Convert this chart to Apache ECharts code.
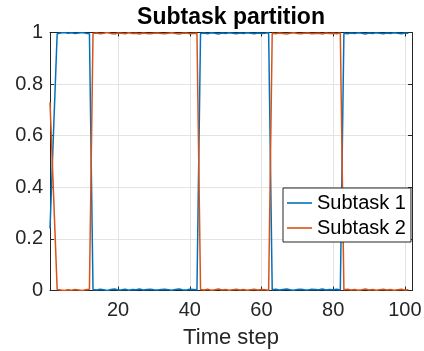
<!DOCTYPE html>
<html>
<head>
<meta charset="utf-8">
<script src="https://cdn.jsdelivr.net/npm/echarts@6/dist/echarts.min.js"></script>
<style>
html,body{margin:0;padding:0;background:#fff;}
#chart{width:424px;height:351px;}
</style>
</head>
<body>
<div id="chart"></div>
<script>
// ---- data ----
const titleText = 'Subtask partition';
const xName = 'Time step';
const seriesNames = ['Subtask 1', 'Subtask 2'];
const xTicks = [20, 40, 60, 80, 100];
const yTicks = [0, 0.2, 0.4, 0.6, 0.8, 1];

const subtask1 = [
  0.24, 0.62,
  0.995,0.998,1,0.997,0.999,0.996,0.998,1,0.997,0.995,
  0.004,0.002,0.005,0.003,0,0.004,0.006,0.002,0.003,0.005,
  0.001,0.004,0.003,0.006,0.002,0.004,0.005,0.003,0.002,0.004,
  0.005,0.003,0.001,0.004,0.006,0.003,0.002,0.005,0.004,0.003,
  0.996,0.998,0.995,0.999,0.997,0.994,0.998,0.996,0.999,0.997,
  0.995,0.998,0.996,0.999,0.997,0.995,0.998,0.996,0.997,0.999,
  0.003,0.005,0.002,0.004,0.006,0.003,0.001,0.004,0.005,0.003,
  0.002,0.005,0.004,0.003,0.006,0.002,0.004,0.003,0.005,0.002,
  0.997,0.995,0.998,0.996,0.999,0.997,0.994,0.998,0.996,0.999,
  0.997,0.995,0.998,0.996,0.999,0.997,0.995,0.998,0.997
];
const subtask2 = [
  0.73, 0.37,
  0.004,0.002,0,0.003,0.001,0.004,0.002,0,0.003,0.005,
  0.996,0.998,0.995,0.997,1,0.996,0.994,0.998,0.997,0.995,
  0.999,0.996,0.997,0.994,0.998,0.996,0.995,0.997,0.998,0.996,
  0.995,0.997,0.999,0.996,0.994,0.997,0.998,0.995,0.996,0.997,
  0.004,0.002,0.005,0.001,0.003,0.006,0.002,0.004,0.001,0.003,
  0.005,0.002,0.004,0.001,0.003,0.005,0.002,0.004,0.003,0.001,
  0.997,0.995,0.998,0.996,0.994,0.997,0.999,0.996,0.995,0.997,
  0.998,0.995,0.996,0.997,0.994,0.998,0.996,0.997,0.995,0.998,
  0.003,0.005,0.002,0.004,0.001,0.003,0.006,0.002,0.004,0.001,
  0.003,0.005,0.002,0.004,0.001,0.003,0.005,0.002,0.003
];
const timeSteps = subtask1.map((_, i) => i + 1);

// ---- chart ----
const FONT = '"Liberation Sans", Arial, Helvetica, sans-serif';
const TXT = '#262626';
const GRIDC = '#e3e3e3';
const X_MIN = 1, X_MAX = 102;

const chart = echarts.init(document.getElementById('chart'), null, {renderer: 'canvas'});

function xAxisBase(pos, showLabel) {
  return {
    type: 'value', position: pos, min: X_MIN, max: X_MAX,
    axisLine: {show: true, onZero: false, lineStyle: {color: TXT, width: 1}},
    axisTick: {show: true, inside: true, length: 4, customValues: xTicks, lineStyle: {color: TXT}},
    axisLabel: {show: showLabel, customValues: xTicks, fontSize: 20, color: TXT, fontFamily: FONT, margin: 10},
    splitLine: {show: showLabel, lineStyle: {color: GRIDC, width: 1}}
  };
}
function yAxisBase(pos, showLabel) {
  return {
    type: 'value', position: pos, min: 0, max: 1, interval: 0.2,
    axisLine: {show: true, onZero: false, lineStyle: {color: TXT, width: 1}},
    axisTick: {show: true, inside: true, length: 4, lineStyle: {color: TXT}},
    axisLabel: {show: showLabel, fontSize: 20, color: TXT, fontFamily: FONT, margin: 7},
    splitLine: {show: showLabel, lineStyle: {color: GRIDC, width: 1}}
  };
}

const xb = xAxisBase('bottom', true);
xb.name = xName;
xb.nameLocation = 'middle';
xb.nameGap = 36;
xb.nameTextStyle = {fontSize: 22, color: TXT, fontFamily: FONT};

chart.setOption({
  animation: false,
  backgroundColor: '#ffffff',
  title: {
    text: titleText, left: 231, top: 6, textAlign: 'center', padding: 0,
    textStyle: {fontSize: 23, fontWeight: 'bold', color: '#000', fontFamily: FONT}
  },
  grid: {left: 50, right: 12, top: 32.5, height: 258, containLabel: false, outerBoundsMode: 'none'},
  xAxis: [xb, xAxisBase('top', false)],
  yAxis: [yAxisBase('left', true), yAxisBase('right', false)],
  legend: {
    orient: 'vertical', left: 283, top: 188,
    padding: [4, 5, 3, 4], itemGap: 3, itemWidth: 25, itemHeight: 1.6, icon: 'rect',
    backgroundColor: '#fff', borderColor: TXT, borderWidth: 1,
    textStyle: {fontSize: 20, color: '#000', fontFamily: FONT, lineHeight: 22, height: 22},
    data: seriesNames
  },
  series: [
    {name: seriesNames[0], type: 'line', xAxisIndex: 0, yAxisIndex: 0, symbol: 'none',
     lineStyle: {color: '#0072BD', width: 1.5}, itemStyle: {color: '#0072BD'},
     data: timeSteps.map((t, i) => [t, subtask1[i]])},
    {name: seriesNames[1], type: 'line', xAxisIndex: 0, yAxisIndex: 0, symbol: 'none',
     lineStyle: {color: '#D95319', width: 1.5}, itemStyle: {color: '#D95319'},
     data: timeSteps.map((t, i) => [t, subtask2[i]])}
  ]
});
</script>
</body>
</html>
